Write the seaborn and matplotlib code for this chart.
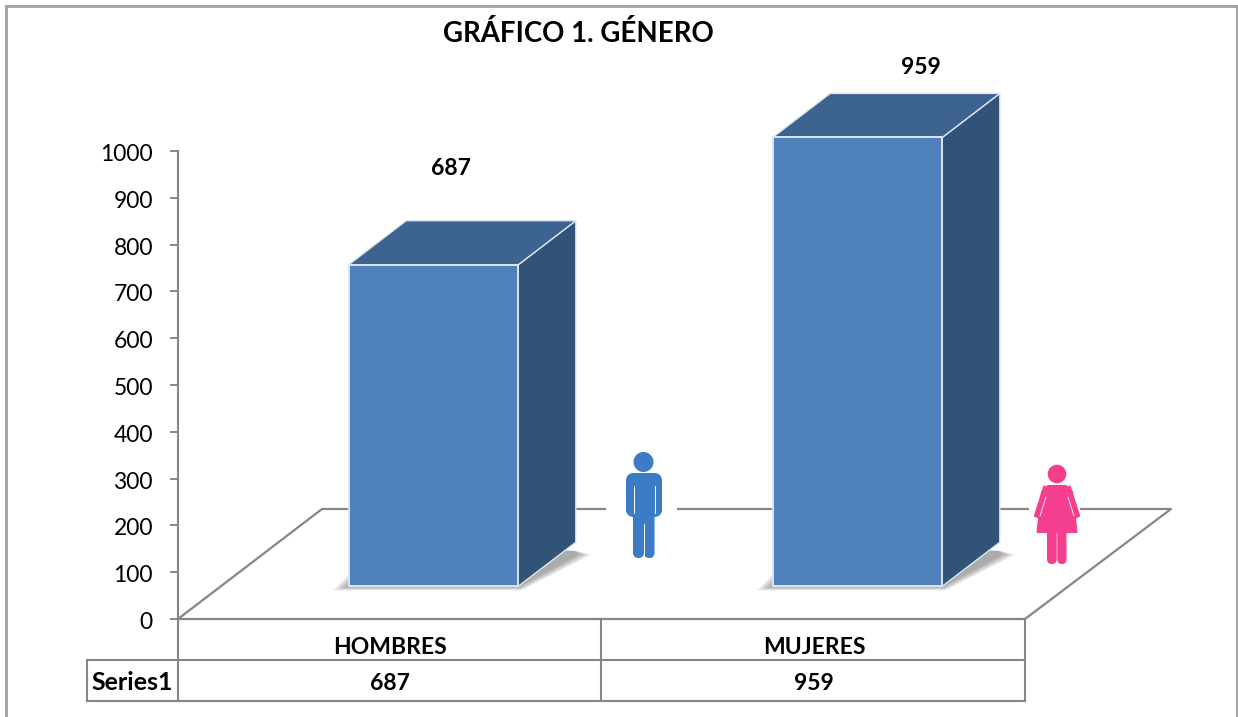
import matplotlib
matplotlib.use("Agg")
import matplotlib.pyplot as plt
from matplotlib.patches import Polygon, Circle, FancyBboxPatch, Rectangle
from matplotlib.transforms import ScaledTranslation
import pandas as pd
import seaborn as sns

# Dades del grafic
categorias = ["HOMBRES", "MUJERES"]
valores = [687, 959]
ticks_y = [0, 100, 200, 300, 400, 500, 600, 700, 800, 900, 1000]
nombre_serie = "Series1"
titulo = "GRÁFICO 1. GÉNERO"

W, H = 1238, 717
GRIS = "#868686"
FRENTE = "#4F81BD"
LADO = "#325378"
TAPA = "#3D6390"
BORDE = "#DCE4EE"
AZUL = "#3B7CC4"
ROSA = "#F43F8F"

sns.set_theme(style="white")
plt.rcParams["font.family"] = ["Lato", "DejaVu Sans"]

fig = plt.figure(figsize=(W / 100, H / 100), dpi=100, facecolor="white")

# Capa de fons en pixels: marc, terra, taula i icones
fons = fig.add_axes([0, 0, 1, 1], zorder=0)
fons.set_xlim(0, W)
fons.set_ylim(H, 0)
fons.axis("off")


def linia(xs, ys, lw=1.5, color=GRIS):
    fons.plot(xs, ys, color=color, lw=lw, solid_capstyle="projecting", solid_joinstyle="miter")


# marc exterior
linia([6, 6], [6, H], lw=2, color="#A0A0A0")
linia([6, 1237], [6, 6], lw=2, color="#A0A0A0")
linia([1237, 1237], [6, H], lw=2, color="#A0A0A0")

# terra
fons.plot([178, 322, 1171, 1025, 178], [619, 509, 509, 619, 619], color=GRIS, lw=1.6)

# taula
for y, x0 in [(660, 87), (701, 87)]:
    linia([x0, 1025], [y, y])
linia([87, 87], [660, 701])
for x in [178, 601, 1025]:
    linia([x, x], [619, 701])

fila_cat = 647
fila_val = 684
for i, (cat, val) in enumerate(zip(categorias, valores)):
    xc = 390 + i * 424
    fons.text(xc, fila_cat, cat, ha="center", va="center", fontsize=16.5, fontweight="bold", color="black")
    fons.text(xc, fila_val, str(val), ha="center", va="center", fontsize=16.5, fontweight="bold", color="black")
fons.text(132, fila_val - 2, nombre_serie, ha="center", va="center", fontsize=18, fontweight="bold", color="black")

fons.text(578, 33, titulo, ha="center", va="center", fontsize=19.9, fontweight="bold", color="black")


def cap(x0, x1, y0, y1, color):
    # peça arrodonida de les icones
    r = min(x1 - x0, y1 - y0) / 2
    fons.add_patch(FancyBboxPatch((x0 + r, y0 + r), x1 - x0 - 2 * r, y1 - y0 - 2 * r,
                                  boxstyle=f"round,pad={r}", fc=color, ec="none", zorder=4))


# home
fons.add_patch(Rectangle((606, 445), 71, 125, fc="white", ec="none", zorder=3))
fons.add_patch(Circle((643.5, 462), 10, fc=AZUL, ec="none", zorder=4))
fons.add_patch(FancyBboxPatch((634, 481), 20, 28, boxstyle="round,pad=8", fc=AZUL, ec="none", zorder=4))
cap(626, 634, 482, 514, AZUL)
cap(654, 662, 482, 514, AZUL)
cap(633, 644, 505, 558, AZUL)
cap(644, 654.5, 505, 558, AZUL)
fons.plot([633.5, 633.5], [486, 513], color="white", lw=0.7, zorder=5)
fons.plot([654.5, 654.5], [486, 513], color="white", lw=0.7, zorder=5)
fons.plot([643.7, 643.7], [524, 556], color="white", lw=0.7, zorder=5)

# dona
fons.add_patch(Rectangle((1029, 460), 51, 110, fc="white", ec="none", zorder=3))
fons.add_patch(Circle((1057, 474), 9.3, fc=ROSA, ec="none", zorder=4))
fons.add_patch(Polygon([(1048, 486), (1066, 486), (1072, 492), (1076.5, 532), (1037.5, 532), (1042, 492)],
                       closed=True, fc=ROSA, ec=ROSA, lw=1.5, joinstyle="round", zorder=4))
fons.add_patch(Polygon([(1044, 486), (1049, 490), (1039, 518), (1034.5, 516)],
                       closed=True, fc=ROSA, ec=ROSA, lw=1, joinstyle="round", zorder=4))
fons.add_patch(Polygon([(1070, 486), (1065, 490), (1075, 518), (1079.5, 516)],
                       closed=True, fc=ROSA, ec=ROSA, lw=1, joinstyle="round", zorder=4))
cap(1047, 1056.7, 525, 564, ROSA)
cap(1057.3, 1066.5, 525, 564, ROSA)
fons.plot([1046, 1040], [497, 516], color="white", lw=0.6, zorder=5)
fons.plot([1068, 1074], [497, 516], color="white", lw=0.6, zorder=5)

# Eixos del grafic: y=0 al pixel 619, y=1000 al 151, categories a 424 px
ax = fig.add_axes([178 / W, (H - 619) / H, (1171 - 178) / W, (619 - 151) / H], zorder=1)
ax.patch.set_alpha(0)

df = pd.DataFrame({"genero": categorias, "total": valores})
sns.barplot(data=df, x="genero", y="total", color=FRENTE, saturation=1, width=0.4,
            edgecolor=BORDE, linewidth=1.4, ax=ax, zorder=3)

ax.set_xlim((178 - 433.5) / 424, (1171 - 433.5) / 424)
ax.set_ylim(0, 1000)
ax.set_yticks(ticks_y)
ax.set_xticks([])
ax.set_xlabel("")
ax.set_ylabel("")
ax.tick_params(axis="y", left=True, length=6, width=1.4, color=GRIS, pad=12, labelsize=16.5, labelcolor="black")
for lado in ["top", "right", "bottom"]:
    ax.spines[lado].set_visible(False)
ax.spines["left"].set_color(GRIS)
ax.spines["left"].set_linewidth(1.5)

# els numeros de l'eix queden una mica per sota de la marca
baixa = ScaledTranslation(0, -1.5 / 100, fig.dpi_scale_trans)
for etiqueta in ax.get_yticklabels():
    etiqueta.set_transform(etiqueta.get_transform() + baixa)

# Les barres surten del terra, no del zero; la profunditat es el 3D fals
ELEVA = 70
DX = 57.5 / 424
DY = 44 / 0.468

for bar in ax.patches:
    bar.set_y(ELEVA)
    bar.set_clip_on(False)
    x0, x1 = bar.get_x(), bar.get_x() + bar.get_width()
    y0, y1 = ELEVA, ELEVA + bar.get_height()

    # ombra difusa a la base
    for k in range(8):
        e = 0.038 * (1 - k / 8)
        ey = 26 * (1 - k / 8)
        ax.add_patch(Polygon([(x0 - e, y0 - ey * 0.35), (x1 + e * 0.2, y0 - ey * 0.35),
                              (x1 + DX + e, y0 + DY * 0.72), (x1 + DX, y0 + DY * 0.8),
                              (x0 + DX, y0 + DY), (x0, y0 + ey)],
                             closed=True, fc="#505050", ec="none", alpha=0.075, zorder=1, clip_on=False))

    ax.add_patch(Polygon([(x1, y0), (x1 + DX, y0 + DY), (x1 + DX, y1 + DY), (x1, y1)],
                         closed=True, fc=LADO, ec=BORDE, lw=1.0, zorder=2, clip_on=False))
    ax.add_patch(Polygon([(x0, y1), (x1, y1), (x1 + DX, y1 + DY), (x0 + DX, y1 + DY)],
                         closed=True, fc=TAPA, ec=BORDE, lw=1.0, zorder=2, clip_on=False))

# Etiquetes de dades
ax.annotate(str(valores[0]), (0, ELEVA + valores[0] + DY), xytext=(17, 52), textcoords="offset pixels",
            ha="center", va="center", fontsize=16.5, fontweight="bold", color="black", annotation_clip=False)
ax.annotate(str(valores[1]), (1, ELEVA + valores[1] + DY), xytext=(63, 26), textcoords="offset pixels",
            ha="center", va="center", fontsize=16.5, fontweight="bold", color="black", annotation_clip=False)

fig.savefig("out.png", dpi=100)
